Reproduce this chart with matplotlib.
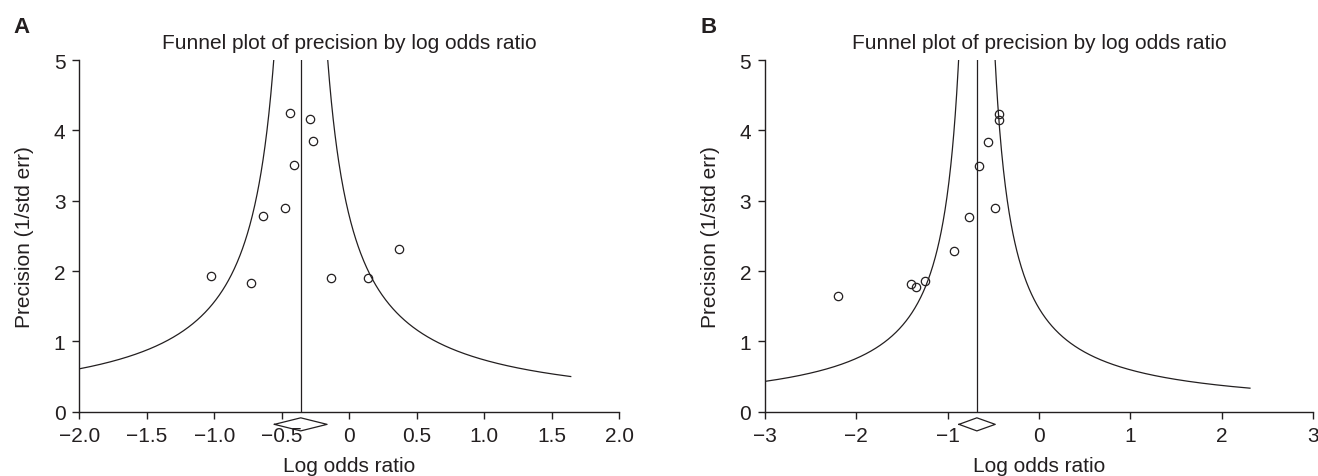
import numpy as np
import matplotlib.pyplot as plt

plt.rcParams['font.family'] = ['Liberation Sans', 'DejaVu Sans']

# panel A: studies (log odds ratio, precision)
a_logor = [-0.443, -0.290, -0.271, -0.409, -0.477, -0.636, 0.365, -1.023, -0.730, -0.137, 0.137]
a_prec = [4.24, 4.165, 3.85, 3.51, 2.89, 2.785, 2.31, 1.93, 1.825, 1.905, 1.905]
a_pooled = -0.36
a_ci = (-0.555, -0.165)

# panel B
b_logor = [-0.442, -0.438, -0.553, -0.654, -0.484, -0.770, -0.935, -1.396, -1.346, -1.244, -2.203]
b_prec = [4.23, 4.15, 3.83, 3.487, 2.894, 2.775, 2.287, 1.817, 1.779, 1.855, 1.651]
b_pooled = -0.68
b_ci = (-0.876, -0.479)

funnel_k = 1.0  # half-width of the funnel at precision 1

a_ticks = [-2.0, -1.5, -1.0, -0.5, 0, 0.5, 1.0, 1.5, 2.0]
a_ticklabels = ['\u22122.0', '\u22121.5', '\u22121.0', '\u22120.5', '0', '0.5', '1.0', '1.5', '2.0']
b_ticks = [-3, -2, -1, 0, 1, 2, 3]
b_ticklabels = ['\u22123', '\u22122', '\u22121', '0', '1', '2', '3']
y_ticks = [0, 1, 2, 3, 4, 5]

ink = '#231f20'
fs = 15


def funnel(ax, xs, ys, pooled, ci, xlim, curve_end, ticks, ticklabels):
    top = 5
    xl = np.linspace(xlim[0], pooled - funnel_k / top, 400)
    ax.plot(xl, funnel_k / (pooled - xl), color=ink, lw=0.9)
    xr = np.linspace(pooled + funnel_k / top, curve_end, 400)
    ax.plot(xr, funnel_k / (xr - pooled), color=ink, lw=0.9)
    ax.plot([pooled, pooled], [0, top], color=ink, lw=0.9)
    ax.plot(xs, ys, 'o', ms=6, mfc='none', mec=ink, mew=0.9)
    # pooled estimate diamond under the axis
    dy, hh = -0.18, 0.093
    ax.plot([ci[0], pooled, ci[1], pooled, ci[0]], [dy, dy + hh, dy, dy - hh, dy],
            color=ink, lw=0.9, clip_on=False)
    ax.set_xlim(xlim)
    ax.set_ylim(0, top)
    for s in ['top', 'right']:
        ax.spines[s].set_visible(False)
    for s in ['left', 'bottom']:
        ax.spines[s].set_color(ink)
        ax.spines[s].set_linewidth(1.0)
    ax.set_xticks(ticks)
    ax.set_xticklabels(ticklabels)
    ax.set_yticks(y_ticks)
    ax.tick_params(direction='out', length=5, width=1.0, colors=ink, labelsize=fs)
    ax.tick_params(axis='x', pad=5)
    ax.tick_params(axis='y', pad=5)
    ax.set_title('Funnel plot of precision by log odds ratio', fontsize=fs, color=ink, pad=9)
    ax.set_xlabel('Log odds ratio', fontsize=fs, color=ink, labelpad=8)
    ax.set_ylabel('Precision (1/std err)', fontsize=fs, color=ink, labelpad=14)


fig = plt.figure(figsize=(13.18, 4.77), dpi=100)
ax_a = fig.add_axes([0.0602, 0.1348, 0.4097, 0.7373])
ax_b = fig.add_axes([0.5804, 0.1348, 0.4158, 0.7373])

funnel(ax_a, a_logor, a_prec, a_pooled, a_ci, (-2.0, 2.0), 1.64, a_ticks, a_ticklabels)
funnel(ax_b, b_logor, b_prec, b_pooled, b_ci, (-3, 3), 2.31, b_ticks, b_ticklabels)

fig.text(13 / 1318, 1 - 33 / 477, 'A', fontsize=16, fontweight='bold', color=ink, va='baseline')
fig.text(700 / 1318, 1 - 33 / 477, 'B', fontsize=16, fontweight='bold', color=ink, va='baseline')

fig.savefig('out.png', dpi=100)
